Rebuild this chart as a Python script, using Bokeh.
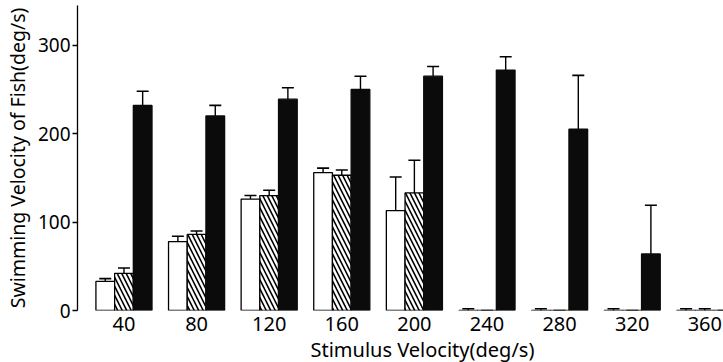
from bokeh.plotting import figure
from bokeh.models import ColumnDataSource, Range1d, FixedTicker, Whisker, TeeHead, Title
from bokeh.embed import file_html
from bokeh.resources import INLINE

# Data
stimulus = [40, 80, 120, 160, 200, 240, 280, 320, 360]
open_vals = [33, 78, 126, 156, 113, 0, 0, 0, 0]
open_err = [3, 6, 4, 5, 38, 2, 2, 2, 2]
hatched_vals = [42, 86, 130, 153, 133, 0, 0, 0, 0]
hatched_err = [6, 4, 6, 6, 37, 0, 0, 0, 2]
black_vals = [232, 220, 239, 250, 265, 272, 205, 64, 0]
black_err = [16, 12, 13, 15, 11, 15, 61, 55, 0]
y_ticks = [0, 100, 200, 300]

FONT = "Noto Sans"
BW = 10.3  # bar width in data units
offsets = [-BW, 0.0, BW]

p = figure(width=723, height=362, output_backend="svg", toolbar_location=None,
           x_range=Range1d(14.4, 370.3), y_range=Range1d(0, 345),
           min_border_left=69, min_border_right=0, min_border_top=5, min_border_bottom=45)
p.background_fill_color = "white"
p.border_fill_color = "white"
p.outline_line_color = None
p.grid.visible = False

series = [
    (open_vals, open_err, dict(fill_color="white", line_color="black")),
    (hatched_vals, hatched_err, dict(fill_color="white", line_color="black",
                                      hatch_pattern="\\", hatch_color="black",
                                      hatch_scale=9, hatch_weight=1.6)),
    (black_vals, black_err, dict(fill_color="#0b0b0b", line_color="#0b0b0b")),
]

for (vals, errs, style), off in zip(series, offsets):
    xs = [c + off for c in stimulus]
    tops = [max(v, 0.001) for v in vals]
    src = ColumnDataSource(dict(x=xs, top=tops, upper=[v + e for v, e in zip(vals, errs)]))
    p.vbar(x="x", top="top", bottom=0, width=BW, source=src, line_width=1.3, **style)
    w = Whisker(base="x", lower="top", upper="upper", source=src,
                line_color="black", line_width=1.4,
                upper_head=TeeHead(size=12, line_color="black", line_width=1.6),
                lower_head=None)
    p.add_layout(w)

# Y axis
ya = p.yaxis[0]
ya.ticker = FixedTicker(ticks=y_ticks)
ya.minor_tick_line_color = None
ya.major_tick_in = 0
ya.major_tick_out = 5
ya.axis_line_width = 1.3
ya.major_tick_line_width = 1.3
ya.major_label_text_font = FONT
ya.major_label_text_font_size = "19px"
ya.major_label_text_color = "black"
ya.major_label_standoff = 2
ya.axis_label = "Swimming Velocity of Fish(deg/s)"
ya.axis_label_text_font = FONT
ya.axis_label_text_font_size = "19.5px"
ya.axis_label_text_font_style = "normal"
ya.axis_label_text_color = "black"
ya.axis_label_standoff = 4

# X axis: labels only
xa = p.xaxis[0]
xa.ticker = FixedTicker(ticks=stimulus)
xa.axis_line_color = None
xa.major_tick_line_color = None
xa.minor_tick_line_color = None
xa.major_label_text_font = FONT
xa.major_label_text_font_size = "20px"
xa.major_label_text_color = "black"
xa.major_label_standoff = 0

p.add_layout(Title(text="Stimulus Velocity(deg/s)", align="left", offset=233,
                   text_font=FONT, text_font_size="20px", text_font_style="normal",
                   text_color="black", standoff=0), "below")

open("out.html", "w").write(file_html(p, INLINE))
